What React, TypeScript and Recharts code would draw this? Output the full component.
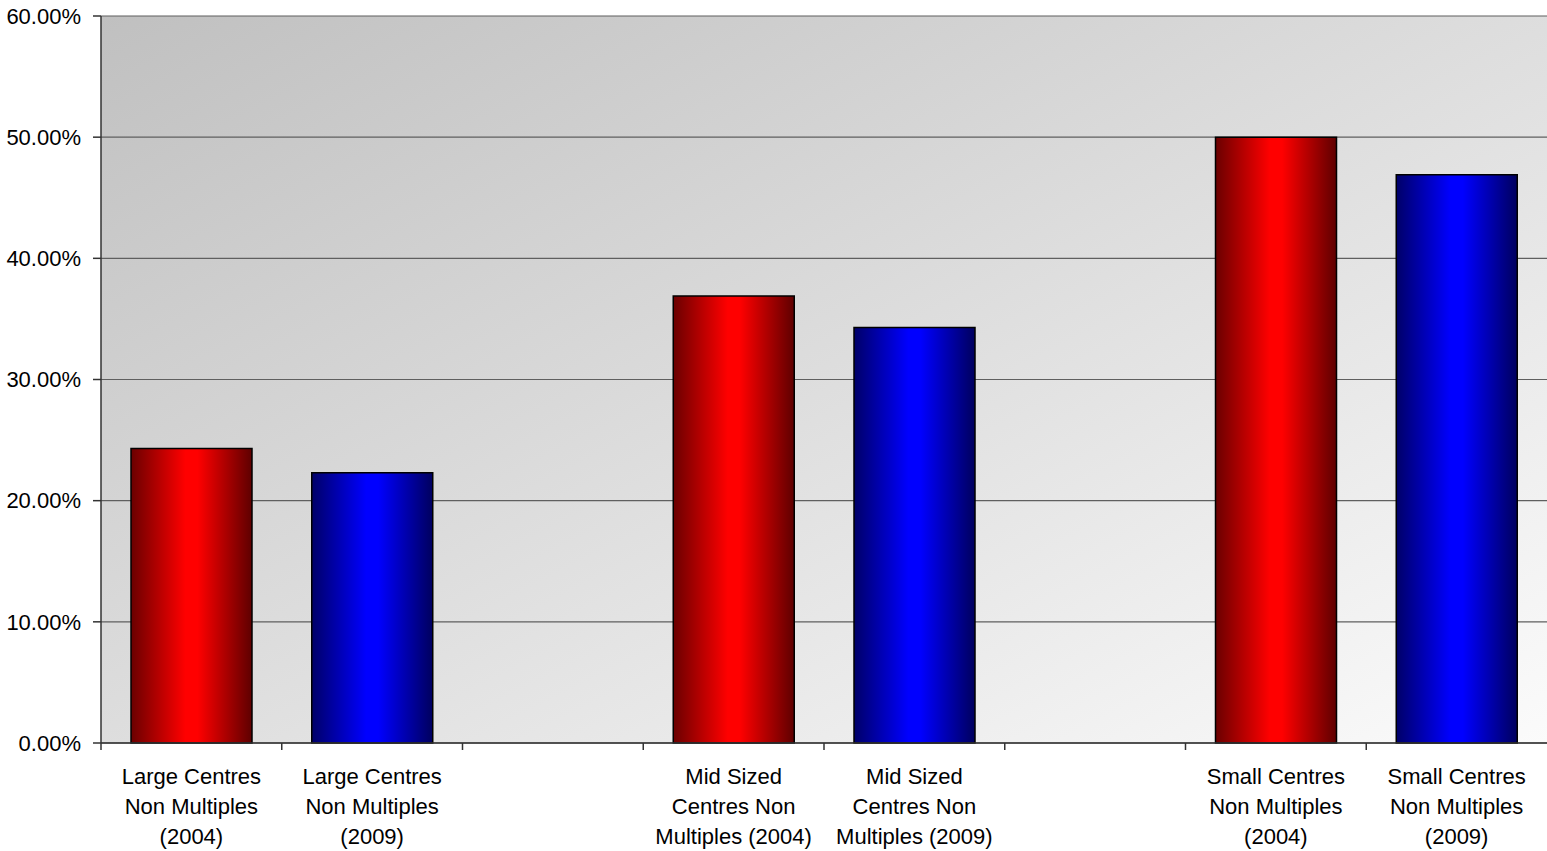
import React from 'react';
import { BarChart, Bar, XAxis, YAxis, CartesianGrid, Cell } from 'recharts';

// category slots; empty strings leave gaps between the centre groups
const categories = [
  'Large Centres Non Multiples (2004)',
  'Large Centres Non Multiples (2009)',
  '',
  'Mid Sized Centres Non Multiples (2004)',
  'Mid Sized Centres Non Multiples (2009)',
  '',
  'Small Centres Non Multiples (2004)',
  'Small Centres Non Multiples (2009)',
];

// how each axis label wraps
const labelLines = [
  ['Large Centres', 'Non Multiples', '(2004)'],
  ['Large Centres', 'Non Multiples', '(2009)'],
  [],
  ['Mid Sized', 'Centres Non', 'Multiples (2004)'],
  ['Mid Sized', 'Centres Non', 'Multiples (2009)'],
  [],
  ['Small Centres', 'Non Multiples', '(2004)'],
  ['Small Centres', 'Non Multiples', '(2009)'],
];

const years = ['2004', '2009', '', '2004', '2009', '', '2004', '2009'];
const shares = [24.3, 22.3, null, 36.9, 34.3, null, 50.0, 46.9];
const yTicks = [0, 10, 20, 30, 40, 50, 60];

const data = categories.map((name, i) => ({ name, share: shares[i], year: years[i], idx: i }));

const W = 1547;
const H = 851;
const LEFT = 101;
const BAND = (W - LEFT) / categories.length;
const FONT = '"Liberation Sans", Arial, sans-serif';

const CategoryTick = (props: any) => {
  const { x, y, payload } = props;
  const i = payload.index ?? categories.indexOf(payload.value);
  const lines = labelLines[i] || [];
  const left = x - BAND / 2;
  return (
    <g>
      <line x1={left} y1={y} x2={left} y2={y + 7} stroke="#333" strokeWidth={1.5} />
      {lines.map((t, k) => (
        <text
          key={k}
          x={x}
          y={y + 41 + k * 30}
          textAnchor="middle"
          fontSize={22}
          fontFamily={FONT}
          fill="#000"
        >
          {t}
        </text>
      ))}
    </g>
  );
};

const App: React.FC = () => {
  return (
    <div style={{ position: 'absolute', left: 0, top: 0, width: W, height: H, background: '#fff' }}>
      <svg width={0} height={0} style={{ position: 'absolute' }}>
        <defs>
          <linearGradient id="plotBg" x1="0" y1="0" x2="1" y2="1">
            <stop offset="0%" stopColor="#c0c0c0" />
            <stop offset="100%" stopColor="#fbfbfb" />
          </linearGradient>
          <linearGradient id="redBar" x1="0" y1="0" x2="1" y2="0">
            <stop offset="0%" stopColor="#6a0000" />
            <stop offset="45%" stopColor="#ff0000" />
            <stop offset="55%" stopColor="#ff0000" />
            <stop offset="100%" stopColor="#5e0000" />
          </linearGradient>
          <linearGradient id="blueBar" x1="0" y1="0" x2="1" y2="0">
            <stop offset="0%" stopColor="#000068" />
            <stop offset="45%" stopColor="#0000ff" />
            <stop offset="55%" stopColor="#0000ff" />
            <stop offset="100%" stopColor="#00005e" />
          </linearGradient>
        </defs>
      </svg>
      <BarChart
        width={W}
        height={H}
        data={data}
        margin={{ top: 16, right: 0, bottom: 0, left: 0 }}
        barSize={121}
      >
        <CartesianGrid vertical={false} stroke="#5f5f5f" strokeWidth={1.2} fill="url(#plotBg)" fillOpacity={1} />
        <XAxis
          dataKey="name"
          height={108}
          interval={0}
          tickLine={false}
          tickSize={0}
          tickMargin={0}
          axisLine={{ stroke: '#333', strokeWidth: 1.5 }}
          tick={<CategoryTick />}
        />
        <YAxis
          width={LEFT}
          domain={[0, 60]}
          ticks={yTicks}
          interval={0}
          tickSize={8}
          tickMargin={12}
          tickFormatter={(v: number) => `${v.toFixed(2)}%`}
          tick={{ fontSize: 22, fontFamily: FONT, fill: '#000' }}
          axisLine={{ stroke: '#333', strokeWidth: 1.5 }}
          tickLine={{ stroke: '#333', strokeWidth: 1.5 }}
        />
        <Bar dataKey="share" isAnimationActive={false} stroke="#000" strokeWidth={1.5}>
          {data.map((d) => (
            <Cell key={d.idx} fill={d.year === '2004' ? 'url(#redBar)' : 'url(#blueBar)'} />
          ))}
        </Bar>
      </BarChart>
    </div>
  );
};

export default App;
